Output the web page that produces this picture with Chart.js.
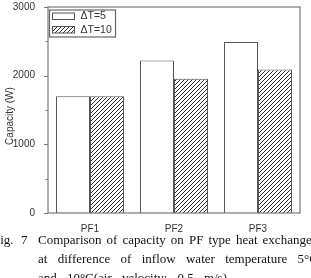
<!DOCTYPE html>
<html>
<head>
<meta charset="utf-8">
<script src="https://cdn.jsdelivr.net/npm/chart.js@4.4.0/dist/chart.umd.min.js"></script>
<style>
  body { margin: 0; background: #fff; width: 311px; height: 278px; overflow: hidden; position: relative; }
  #wrap { position: absolute; left: 0; top: 0; width: 311px; height: 235px; }
  .cap { position: absolute; font-family: "Liberation Serif", "Times New Roman", serif; font-size: 13px;
         color: #111; white-space: nowrap; text-align: justify; text-align-last: justify; line-height: 19px; }
</style>
</head>
<body>
<div id="wrap"><canvas id="viewChart" width="311" height="235"></canvas></div>
<div class="cap" style="left:-7px; top:230px; text-align-last:left;">Fig.</div>
<div class="cap" style="left:21px; top:230px; text-align-last:left;">7</div>
<div class="cap" style="left:38px; top:230px; width:278px;">Comparison of capacity on PF type heat exchanger</div>
<div class="cap" style="left:38px; top:249px; width:280px;">at difference of inflow water temperature 5°C</div>
<div class="cap" style="left:38px; top:268px; width:189px;">and 10°C(air velocity: 0.5 m/s)</div>
<script>
const categories = ['PF1', 'PF2', 'PF3'];
const dt5 = [1700, 2220, 2490];
const dt10 = [1700, 1955, 2090];
const seriesLabels = ['\u0394T=5', '\u0394T=10'];
const yTicks = [0, 1000, 2000, 3000];
const yTitle = 'Capacity (W)';

function makeHatch() {
    const c = document.createElement('canvas');
    c.width = 4; c.height = 4;
    const g = c.getContext('2d');
    g.fillStyle = '#fff';
    g.fillRect(0, 0, 4, 4);
    g.strokeStyle = '#333';
    g.lineWidth = 1;
    g.beginPath();
    g.moveTo(-1, 5); g.lineTo(5, -1);
    g.moveTo(-1, 1); g.lineTo(1, -1);
    g.moveTo(3, 5); g.lineTo(5, 3);
    g.stroke();
    return g.createPattern(c, 'repeat');
}
const hatch = makeHatch();

// frame, minor/major ticks, axis title and legend
const framePlugin = {
    id: 'frame',
    afterDraw(chart) {
        const ctx = chart.ctx;
        const a = chart.chartArea;
        const y = chart.scales.y;
        ctx.save();
        ctx.strokeStyle = '#777';
        ctx.lineWidth = 1.2;
        ctx.strokeRect(a.left, a.top, a.right - a.left, a.bottom - a.top);
        ctx.beginPath();
        y.ticks.forEach(t => {
            const py = Math.round(y.getPixelForValue(t.value)) + 0.5;
            const len = t.value % 1000 === 0 ? 4 : 2.5;
            ctx.moveTo(a.left - len, py);
            ctx.lineTo(a.left, py);
        });
        ctx.stroke();

        // y title
        ctx.save();
        ctx.translate(10, (a.top + a.bottom) / 2 + 6);
        ctx.rotate(-Math.PI / 2);
        ctx.font = '10px "Liberation Sans", Arial, sans-serif';
        ctx.fillStyle = '#333';
        ctx.textAlign = 'center';
        ctx.textBaseline = 'middle';
        ctx.fillText(yTitle, 0, 0);
        ctx.restore();

        // legend
        const lx = a.left + 1.5, ly = a.top + 3, lw = 66, lh = 27;
        ctx.strokeStyle = '#666';
        ctx.lineWidth = 1.2;
        ctx.strokeRect(lx, ly, lw, lh);
        const fills = ['#fff', hatch];
        ctx.font = '10.5px "Liberation Sans", Arial, sans-serif';
        ctx.textBaseline = 'middle';
        seriesLabels.forEach((lab, i) => {
            const sy = ly + 3 + i * 13.5;
            ctx.fillStyle = fills[i];
            ctx.fillRect(lx + 3, sy, 22, 6.5);
            ctx.strokeStyle = '#555';
            ctx.lineWidth = 1;
            ctx.strokeRect(lx + 3, sy, 22, 6.5);
            ctx.fillStyle = '#333';
            ctx.fillText(lab, lx + 31, sy + 3.5);
        });
        ctx.restore();
    }
};

const ctx = document.getElementById('viewChart').getContext('2d');
const myChart = new Chart(ctx, {
    type: 'bar',
    data: {
        labels: categories,
        datasets: [{
            label: seriesLabels[0],
            data: dt5,
            backgroundColor: '#fff',
            borderColor: '#555',
            borderWidth: 1,
            barPercentage: 1,
            categoryPercentage: 0.81
        }, {
            label: seriesLabels[1],
            data: dt10,
            backgroundColor: hatch,
            borderColor: '#555',
            borderWidth: 1,
            barPercentage: 1,
            categoryPercentage: 0.81
        }]
    },
    options: {
        responsive: false,
        animation: false,
        devicePixelRatio: 1,
        layout: { padding: { left: 0, right: 11, top: 7, bottom: 0 } },
        plugins: { legend: { display: false }, tooltip: { enabled: false } },
        scales: {
            x: {
                grid: { display: false },
                border: { display: false },
                ticks: {
                    color: '#333',
                    padding: 2,
                    font: { family: '"Liberation Sans", Arial, sans-serif', size: 10 }
                },
                afterFit: s => { s.height = 22; s.paddingLeft = 0; s.paddingRight = 0; }
            },
            y: {
                min: 0,
                max: 3000,
                grid: { display: false },
                border: { display: false },
                ticks: {
                    stepSize: 500,
                    color: '#333',
                    padding: 5,
                    font: { family: '"Liberation Sans", Arial, sans-serif', size: 10 },
                    callback: v => yTicks.includes(v) ? String(v) : ''
                },
                afterFit: s => { s.width = 48; s.paddingTop = 0; s.paddingBottom = 0; }
            }
        }
    },
    plugins: [framePlugin]
});
</script>
</body>
</html>
